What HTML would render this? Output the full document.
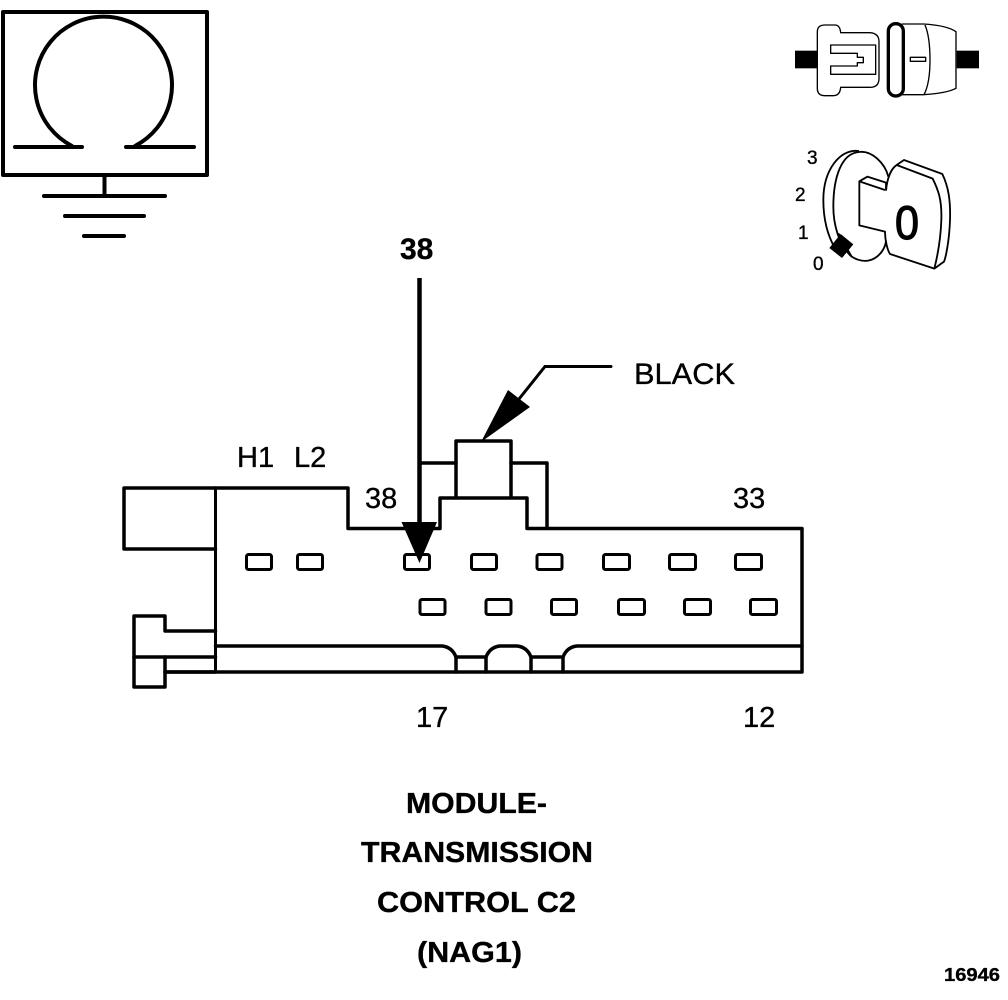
<!DOCTYPE html>
<html><head><meta charset="utf-8"><style>
html,body{margin:0;padding:0;background:#fff}
svg{display:block}
text{font-family:"Liberation Sans",sans-serif;fill:#000;stroke:#000;stroke-width:.35}
.b{font-weight:bold}
</style></head><body>
<svg width="1008" height="1000" viewBox="0 0 1008 1000" xmlns="http://www.w3.org/2000/svg">
<rect width="1008" height="1000" fill="#fff"/>
<!-- Omega box -->
<g fill="none" stroke="#000" stroke-width="4" stroke-linecap="round" stroke-linejoin="round">
<rect x="3" y="12" width="204" height="163"/>
<path d="M15 147H82M126 147H194"/>
<path d="M72 146A68.500 68.500 0 1 1 135 146"/>
<path d="M104.500 177V196M44 196H165M65 216H144M84 236H124" />
</g>
<!-- Connector -->
<g fill="none" stroke="#000" stroke-width="3.500" stroke-linejoin="round" stroke-linecap="round">
<path d="M215.500 488H348V528.500H440V498H527V528.500H802V672H165"/>
<path d="M215.500 488H124V549H215.500"/>
<path d="M215.500 488V672" stroke-width="3"/>
<path d="M215.500 631H165V616H134V687H165V657"/>
<path d="M134 657H215.500"/>
<path d="M165 672H215.500"/>
<path d="M215.500 646H442Q452 647 456 657H486Q490 647 500 646H517Q527 647 531 657H563Q567 647 577 646H802"/>
<path d="M456 657V672M486 657V672M531 657V672M563 657V672"/>
<path d="M456 497V441H511V497"/>
<path d="M420 463H456M511 463H547V528"/>
<g stroke-width="3">
<rect x="246.500" y="554.500" width="25" height="15" rx="2"/>
<rect x="297.500" y="554.500" width="25" height="15" rx="2"/>
<rect x="404.500" y="554.500" width="25" height="15" rx="2"/>
<rect x="471.500" y="554.500" width="25" height="15" rx="2"/>
<rect x="537" y="554.500" width="25" height="15" rx="2"/>
<rect x="603.500" y="554.500" width="26" height="15" rx="2"/>
<rect x="669.500" y="554.500" width="26" height="15" rx="2"/>
<rect x="735.500" y="554.500" width="26" height="15" rx="2"/>
<rect x="420" y="599.500" width="25" height="15" rx="2"/>
<rect x="486" y="599.500" width="25" height="15" rx="2"/>
<rect x="551.500" y="599.500" width="25" height="15" rx="2"/>
<rect x="618.500" y="599.500" width="26" height="15" rx="2"/>
<rect x="684.500" y="599.500" width="26" height="15" rx="2"/>
<rect x="750.500" y="599.500" width="26" height="15" rx="2"/>
</g>
</g>
<!-- wire 38 -->
<path d="M419.500 278V530" stroke="#000" stroke-width="4.500" fill="none"/>
<path d="M401.500 522H437L419.500 563Z" fill="#000"/>
<!-- BLACK leader -->
<path d="M519 399L545 366.500H611" stroke="#000" stroke-width="3" fill="none" stroke-linecap="round"/>
<path d="M481 442L508 390L530 407Z" fill="#000"/>
<!-- Labels -->
<text x="237" y="467" font-size="29">H1</text>
<text x="294" y="467" font-size="29">L2</text>
<text x="365" y="508" font-size="29">38</text>
<text x="733" y="508" font-size="29">33</text>
<text x="634" y="384" font-size="30" textLength="101" lengthAdjust="spacingAndGlyphs">BLACK</text>
<text x="416" y="727" font-size="29">17</text>
<text x="743" y="727" font-size="29">12</text>
<text class="b" x="400" y="259" font-size="30">38</text>
<text class="b" x="406" y="813" font-size="29" textLength="141" lengthAdjust="spacingAndGlyphs">MODULE-</text>
<text class="b" x="361" y="862" font-size="29" textLength="232" lengthAdjust="spacingAndGlyphs">TRANSMISSION</text>
<text class="b" x="377" y="912" font-size="29" textLength="199" lengthAdjust="spacingAndGlyphs">CONTROL C2</text>
<text class="b" x="417" y="962" font-size="29" textLength="105" lengthAdjust="spacingAndGlyphs">(NAG1)</text>
<text class="b" x="944" y="981" font-size="18" textLength="56" lengthAdjust="spacingAndGlyphs">16946</text>
<text x="807" y="164" font-size="19">3</text>
<text x="795" y="201" font-size="19">2</text>
<text x="798" y="239" font-size="19">1</text>
<text x="813" y="270" font-size="19">0</text>
<!-- icons drawn in 3x coords -->
<g transform="translate(780 0) scale(.33333)" fill="none" stroke="#000" stroke-width="4" stroke-linejoin="round">
<rect x="45" y="152" width="67" height="53" fill="#000" stroke="none"/>
<rect x="530" y="152" width="67" height="53" fill="#000" stroke="none"/>
<path d="M112 180V95Q112 75 135 75H165Q180 75 182 98H270Q297 100 297 125V235Q297 262 270 262H182Q180 287 160 287H135Q112 287 112 265Z"/>
<path d="M287 135H152V160H232V172H250V188H232V198H152V223H287Z"/>
<path d="M365 72H430Q500 76 528 95V265Q500 280 430 284H365"/>
<path d="M435 75Q450 110 450 180Q450 250 432 284"/>
<rect x="391" y="172" width="46" height="12"/>
<rect x="325" y="71" width="45" height="217" rx="22" fill="#fff" stroke-width="10"/>
<!-- key -->
<g stroke-width="5.500">
<path d="M237 453C180 445 130 510 130 600C130 660 145 710 165 745"/>
<path d="M237 456C185 460 160 530 160 620C160 670 175 735 215 770C270 805 315 760 318 722"/>
<path d="M237 456C275 450 315 490 325 530"/>
<path d="M175 700L215 770"/>
<path d="M318 572C322 530 335 505 350 495L372 480L487 522C505 560 512 600 510 660C508 720 498 770 492 785L463 806L330 762C322 750 315 720 315 695L238 676V544L262 530L318 548V572"/>
<path d="M238 544L315 570"/>
<path d="M350 495L458 536C475 570 486 600 484 660C482 720 472 770 463 806"/>
</g>
<path d="M148 744L182 702L220 733L186 774Z" fill="#000" stroke="none"/>
</g>
<text x="895" y="239" font-size="47" textLength="24" lengthAdjust="spacingAndGlyphs" style="stroke-width:1.200">0</text>
</svg>
</body></html>
